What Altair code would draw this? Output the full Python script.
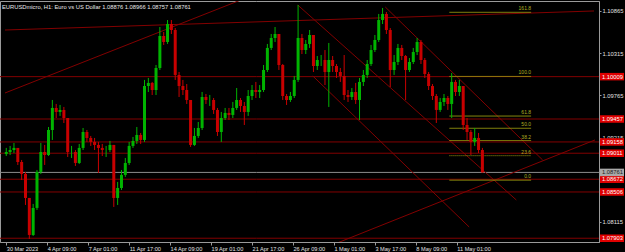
import altair as alt
import pandas as pd

# ---------------- data ----------------
candle_step = 6          # H1 bars per drawn candle
first_open = 1.09000

closes = [1.09027, 1.09053, 1.09080, 1.08897, 1.08741, 1.08428, 1.07946, 1.08298, 1.08767, 1.09027,
          1.08988, 1.09314, 1.09601, 1.09549, 1.09575, 1.09470, 1.09027, 1.09027, 1.08884, 1.09080,
          1.09288, 1.09210, 1.09158, 1.09119, 1.09080, 1.09053, 1.09053, 1.09119, 1.08428, 1.08558,
          1.08728, 1.08884, 1.09106, 1.09171, 1.09249, 1.09184, 1.09887, 1.09927, 1.09835, 1.10122,
          1.10539, 1.10461, 1.10695, 1.10617, 1.10031, 1.09887, 1.09835, 1.09705, 1.09119, 1.09236,
          1.09340, 1.09744, 1.09705, 1.09705, 1.09575, 1.09288, 1.09470, 1.09536, 1.09510, 1.09601,
          1.09705, 1.09627, 1.09549, 1.09757, 1.09835, 1.09809, 1.09835, 1.10096, 1.10383, 1.10513,
          1.10565, 1.10161, 1.09757, 1.09705, 1.09757, 1.09966, 1.10513, 1.10356, 1.10435, 1.10552,
          1.10148, 1.10226, 1.10226, 1.10070, 1.10226, 1.10148, 1.10070, 1.10018, 1.09770, 1.09744,
          1.09809, 1.09705, 1.09940, 1.10031, 1.10174, 1.10356, 1.10487, 1.10747, 1.10826, 1.10617,
          1.10096, 1.10200, 1.10383, 1.10278, 1.10096, 1.10200, 1.10330, 1.10461, 1.10226, 1.10044,
          1.09887, 1.09757, 1.09575, 1.09679, 1.09731, 1.09653, 1.09940, 1.09809, 1.09887, 1.09379,
          1.09288, 1.09158, 1.09210, 1.09053, 1.08761]
highs = [1.09080, 1.09106, 1.09145, 1.09053, 1.08923, 1.08767, 1.08428, 1.08350, 1.08793, 1.09145,
         1.09119, 1.09353, 1.09705, 1.09653, 1.09640, 1.09614, 1.09470, 1.09106, 1.09053, 1.09132,
         1.09340, 1.09314, 1.09236, 1.09210, 1.09158, 1.09132, 1.09106, 1.09171, 1.09119, 1.08637,
         1.08793, 1.08949, 1.09158, 1.09223, 1.09353, 1.09275, 1.09966, 1.09992, 1.09940, 1.10161,
         1.10656, 1.10591, 1.10747, 1.10747, 1.10643, 1.10070, 1.09966, 1.09913, 1.09705, 1.09340,
         1.09418, 1.09809, 1.09783, 1.09770, 1.09731, 1.09601, 1.09549, 1.09601, 1.09601, 1.09679,
         1.09861, 1.09731, 1.09679, 1.09835, 1.09900, 1.09940, 1.09900, 1.10161, 1.10435, 1.10565,
         1.10656, 1.10565, 1.10174, 1.09783, 1.09809, 1.10018, 1.10943, 1.10565, 1.10487, 1.10617,
         1.10539, 1.10278, 1.10291, 1.10356, 1.10448, 1.10278, 1.10174, 1.10122, 1.10291, 1.09835,
         1.09861, 1.09927, 1.09992, 1.10096, 1.10226, 1.10422, 1.10552, 1.10826, 1.10904, 1.10852,
         1.10643, 1.10291, 1.10435, 1.10422, 1.10291, 1.10252, 1.10383, 1.10513, 1.10487, 1.10252,
         1.10070, 1.09913, 1.09783, 1.09731, 1.09783, 1.09757, 1.10057, 1.09966, 1.09966, 1.09887,
         1.09470, 1.09314, 1.09340, 1.09275, 1.09080]
lows = [1.08975, 1.08988, 1.09014, 1.08858, 1.08663, 1.08337, 1.07894, 1.07933, 1.08272, 1.08741,
        1.08858, 1.08975, 1.09184, 1.09470, 1.09497, 1.09405, 1.08962, 1.08949, 1.08845, 1.08871,
        1.09053, 1.09158, 1.09106, 1.09053, 1.08754, 1.08975, 1.08962, 1.09027, 1.08311, 1.08337,
        1.08532, 1.08702, 1.08858, 1.09080, 1.09132, 1.09132, 1.09158, 1.09809, 1.09770, 1.09770,
        1.10096, 1.10422, 1.10435, 1.10565, 1.09966, 1.09744, 1.09770, 1.09653, 1.09093, 1.09106,
        1.09210, 1.09314, 1.09653, 1.09627, 1.09523, 1.09236, 1.09158, 1.09444, 1.09444, 1.09470,
        1.09575, 1.09549, 1.09379, 1.09497, 1.09705, 1.09731, 1.09731, 1.09809, 1.10070, 1.10356,
        1.10461, 1.10096, 1.09705, 1.09640, 1.09679, 1.09731, 1.09940, 1.10304, 1.10304, 1.10383,
        1.10070, 1.10096, 1.10148, 1.09900, 1.09614, 1.10070, 1.09992, 1.09940, 1.09705, 1.09679,
        1.09705, 1.09653, 1.09444, 1.09887, 1.09992, 1.10148, 1.10330, 1.10461, 1.10695, 1.10565,
        1.09874, 1.10031, 1.10161, 1.10226, 1.09705, 1.10070, 1.10174, 1.10291, 1.10174, 1.09992,
        1.09835, 1.09705, 1.09405, 1.09549, 1.09627, 1.09575, 1.09470, 1.09757, 1.09757, 1.09314,
        1.09184, 1.08988, 1.09106, 1.09014, 1.08757]

# horizontal levels (red) and current bid (grey)
level_prices = [1.10009, 1.09457, 1.09158, 1.09011, 1.08672, 1.08506, 1.07903]
bid_price = 1.08761

# price axis ticks
price_ticks = [1.08115, 1.08390, 1.08665, 1.08940, 1.09215, 1.09490,
               1.09765, 1.10040, 1.10315, 1.10590, 1.10865]

# time axis (H1 bar index -> label)
time_tick_bars = [0, 64, 128, 192, 256, 320, 384, 448, 512, 576, 640, 704]
time_tick_text = ["30 Mar 2023", "4 Apr 09:00", "7 Apr 01:00", "11 Apr 17:00",
                  "14 Apr 09:00", "19 Apr 01:00", "21 Apr 17:00", "26 Apr 09:00",
                  "1 May 01:00", "3 May 17:00", "8 May 09:00", "11 May 01:00"]

# trend lines: (bar1, price1, bar2, price2)
trend_bar1 = [-2.0, -2.0, 455.4, 592.2, 479.0, 517.4]
trend_p1 = [1.09796, 1.10617, 1.10943, 1.10917, 1.10018, 1.07842]
trend_bar2 = [382.2, 918.4, 797.0, 838.1, 723.3, 920.0]
trend_p2 = [1.11060, 1.10865, 1.08402, 1.08923, 1.08050, 1.09184]

# Fibonacci retracement
fib_bar_start, fib_bar_end = 692.5, 820.1
fib_high, fib_low = 1.10012, 1.08660
fib_levels = [0.0, 23.6, 38.2, 50.0, 61.8, 100.0, 161.8]
fib_text = ["0.0", "23.6", "38.2", "50.0", "61.8", "100.0", "161.8"]

title_text = "EURUSDmicro, H1:  Euro vs US Dollar  1.08876 1.08966 1.08757 1.08761"

# ---------------- tables ----------------
opens = [first_open] + closes[:-1]
candles = pd.DataFrame({
    "bar": [i * candle_step for i in range(len(closes))],
    "open": opens, "high": highs, "low": lows, "close": closes,
})
candles["dir"] = ["up" if c >= o else "down" for o, c in zip(opens, closes)]

levels = pd.DataFrame({"price": level_prices})
bid = pd.DataFrame({"price": [bid_price]})
trends = pd.DataFrame({"b1": trend_bar1, "p1": trend_p1, "b2": trend_bar2, "p2": trend_p2})
fib = pd.DataFrame({
    "level": fib_levels, "label": fib_text,
    "price": [fib_low + (fib_high - fib_low) * l / 100 for l in fib_levels],
    "b1": fib_bar_start, "b2": fib_bar_end,
})
fib["dash"] = ["dot" if l == 23.6 else "solid" for l in fib_levels]

FONT = "Liberation Sans"
W, H = 599, 241
label_map = "{" + ",".join(f"'{b}':'{t}'" for b, t in zip(time_tick_bars, time_tick_text)) + "}"

xscale = alt.Scale(domain=[-2.0, 918.4], nice=False, zero=False)
yscale = alt.Scale(domain=[1.07854, 1.10995], nice=False, zero=False)

x_axis = alt.Axis(values=time_tick_bars, labelExpr=f"{label_map}[datum.value]",
                  labelAlign="left", labelColor="#e0e0e0", labelFont=FONT, labelFontSize=5.6,
                  labelPadding=1, tickSize=3, tickColor="#9a9a9a", domainColor="#9a9a9a",
                  grid=False, title=None, labelOverlap=False, labelFlush=False)
y_axis = alt.Axis(orient="right", values=price_ticks, format=".5f", labelColor="#e0e0e0",
                  labelFont=FONT, labelFontSize=5.8, labelPadding=1, tickSize=2,
                  tickColor="#9a9a9a", domainColor="#9a9a9a", grid=False, title=None,
                  labelOverlap=False, labelFlush=False)

base_x = alt.X("bar:Q", scale=xscale, axis=x_axis)

level_rules = alt.Chart(levels).mark_rule(color="#820000", strokeWidth=1).encode(
    y=alt.Y("price:Q", scale=yscale, axis=y_axis))
bid_rule = alt.Chart(bid).mark_rule(color="#8c8c8c", strokeWidth=1).encode(
    y=alt.Y("price:Q", scale=yscale))

trend_rules = alt.Chart(trends).mark_rule(color="#820000", strokeWidth=1, clip=True).encode(
    x=alt.X("b1:Q", scale=xscale), x2="b2:Q",
    y=alt.Y("p1:Q", scale=yscale), y2="p2:Q")

fib_rules = alt.Chart(fib).mark_rule(color="#9a9a10", strokeWidth=1).encode(
    x=alt.X("b1:Q", scale=xscale), x2="b2:Q",
    y=alt.Y("price:Q", scale=yscale),
    strokeDash=alt.StrokeDash("dash:N", scale=alt.Scale(domain=["solid", "dot"],
                                                       range=[[1, 0], [1, 1]]), legend=None))
fib_labels = alt.Chart(fib).mark_text(color="#b0b020", font=FONT, fontSize=5, align="right",
                                      baseline="bottom", dy=-1).encode(
    x=alt.X("b2:Q", scale=xscale), y=alt.Y("price:Q", scale=yscale), text="label:N")

color_scale = alt.Scale(domain=["up", "down"], range=["#00b400", "#c80000"])
wicks = alt.Chart(candles).mark_rule(strokeWidth=1).encode(
    x=base_x, y=alt.Y("low:Q", scale=yscale), y2="high:Q",
    color=alt.Color("dir:N", scale=color_scale, legend=None))
bodies = alt.Chart(candles).mark_bar(size=3).encode(
    x=alt.X("bar:Q", scale=xscale), y=alt.Y("open:Q", scale=yscale), y2="close:Q",
    color=alt.Color("dir:N", scale=color_scale, legend=None))

# right-hand price tags
tag_boxes = alt.Chart(levels).mark_rule(color="#e00000", strokeWidth=7.5).encode(
    x=alt.value(W + 1), x2=alt.value(W + 25), y=alt.Y("price:Q", scale=yscale))
tag_text = alt.Chart(levels).mark_text(color="#ffffff", font=FONT, fontSize=5.8, align="left",
                                       baseline="middle").encode(
    x=alt.value(W + 3), y=alt.Y("price:Q", scale=yscale), text=alt.Text("price:Q", format=".5f"))
bid_box = alt.Chart(bid).mark_rule(color="#a8a8a8", strokeWidth=7.5).encode(
    x=alt.value(W + 1), x2=alt.value(W + 25), y=alt.Y("price:Q", scale=yscale))
bid_text = alt.Chart(bid).mark_text(color="#202020", font=FONT, fontSize=5.8, align="left",
                                    baseline="middle").encode(
    x=alt.value(W + 3), y=alt.Y("price:Q", scale=yscale), text=alt.Text("price:Q", format=".5f"))

title = alt.Chart(pd.DataFrame({"t": [title_text]})).mark_text(
    color="#e8e8e8", font=FONT, fontSize=5.8, align="left", baseline="middle").encode(
    x=alt.value(2), y=alt.value(6), text="t:N")

chart = alt.layer(
    level_rules, bid_rule, trend_rules, fib_rules, fib_labels, wicks, bodies,
    tag_boxes, tag_text, bid_box, bid_text, title
).properties(
    width=W, height=H, background="#000000",
    padding={"left": 0, "top": 1, "right": 26, "bottom": 10}, autosize="none"
).configure_view(stroke="#9a9a9a", strokeWidth=1)

chart.save("out.html", embed_options={"renderer": "svg", "actions": False})
